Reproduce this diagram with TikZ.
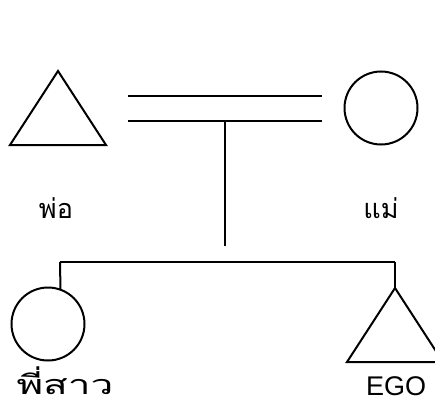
\documentclass[tikz,border=0pt]{standalone}
\usepackage{fontspec}
\setmainfont{Liberation Sans}
\newfontfamily\thaifont[Script=Thai]{Loma}
\usetikzlibrary{shapes.geometric}

\begin{document}
\begin{tikzpicture}[
  x=1pt,y=-1pt,
  kin/.style={draw,line width=2pt,inner sep=0pt,outer sep=0pt},
  male/.style={kin,isosceles triangle,isosceles triangle stretches,shape border rotate=90,minimum width=96pt,minimum height=74pt},
  female/.style={kin,circle,minimum size=73pt},
  link/.style={line width=2pt},
  kinlabel/.style={font=\fontsize{27}{30}\selectfont,inner sep=0pt}
]
  \clip (0,0) rectangle (435,401);
  \useasboundingbox (0,0) rectangle (435,401);
  % parents
  \node[male,anchor=apex] (father) at (58,71) {};
  \node[female] (mother) at (381,108) {};
  \node[kinlabel] (fatherlbl) at (56,208) {\thaifont พ่อ};
  \node[kinlabel] (motherlbl) at (381,208) {\thaifont แม่};
  % marriage
  \coordinate (mtopL) at (128,96);
  \coordinate (mtopR) at (322,96);
  \coordinate (mbotL) at (128,121);
  \coordinate (mbotR) at (322,121);
  \coordinate (drop) at (225,121);
  \coordinate (dropend) at (225,246);
  \draw[link] (mtopL) -- (mtopR);
  \draw[link] (mbotL) -- (mbotR);
  \draw[link] (drop) -- (dropend);
  % children
  \node[female] (sister) at (48,324) {};
  \node[male,anchor=apex] (ego) at (395,288) {};
  \node[kinlabel,xscale=1.5,text depth=0pt,anchor=base] (sisterlbl) at (65,394) {\thaifont พี่สาว};
  \node[kinlabel] (egolbl) at (396,386) {EGO};
  \coordinate (sibL) at (60,262);
  \coordinate (sibR) at (395,262);
  \draw[link] (sibL) -- (sibR);
  \draw[link] (sibL) -- (sister.70);
  \draw[link] (sibR) -- (ego.apex);
\end{tikzpicture}
\end{document}
